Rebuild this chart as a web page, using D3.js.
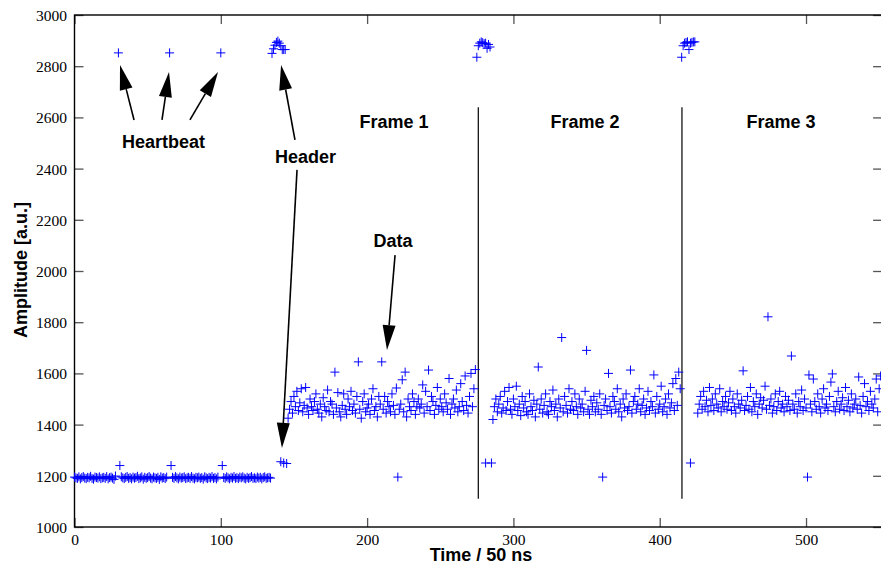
<!DOCTYPE html>
<html>
<head>
<meta charset="utf-8">
<script src="https://cdn.jsdelivr.net/npm/d3@7"></script>
<style>
  html, body { margin: 0; padding: 0; background: #fff; }
  svg { display: block; }
</style>
</head>
<body>
<svg id="chart" width="881" height="564"></svg>
<script>
// ---------------- data ----------------
const xTicks = [0, 100, 200, 300, 400, 500];
const yTicks = [1000, 1200, 1400, 1600, 1800, 2000, 2200, 2400, 2600, 2800, 3000];

// idle baseline, one sample per time unit starting at t = 0 (null = heartbeat slot)
const baselineStart = 0;
const baseline = [
  1195,1192,1190,1196,1188,1193,1197,1191,1189,1194,
  1192,1198,1190,1187,1195,1193,1191,1196,1189,1192,
  1194,1190,1197,1188,1193,1195,1191,1186,1199,null,
  null,null,1196,1192,1189,1194,1197,1190,1193,1188,
  1195,1191,1193,1198,1189,1192,1196,1187,1194,1190,
  1193,1197,1191,1188,1195,1192,1190,1194,1186,1196,
  1191,1193,1189,1195,null,null,null,1194,1190,1197,
  1192,1188,1195,1191,1193,1196,1189,1192,1194,1190,
  1197,1191,1188,1194,1192,1195,1190,1193,1187,1196,
  1192,1189,1194,1191,1197,1190,1193,1188,1195,null,
  null,null,1193,1190,1196,1192,1188,1194,1191,1197,
  1190,1193,1189,1195,1192,1196,1191,1188,1194,1190,
  1193,1197,1190,1192,1189,1195,1191,1194,1188,1193,
  1196,1190,1192,1194,1191
];

// heartbeat pulses
const heartbeatX = [30, 65, 100, 31, 66, 101];
const heartbeatY = [2852, 2852, 2852, 1240, 1240, 1240];

// frame headers
const header1Start = 135;
const header1 = [2850, 2868, 2882, 2893, 2898, 2890, 2880, 2865, 2865, 2865];
const header2Start = 275;
const header2 = [2835, 2880, 2890, 2895, 2892, 2888, 2890, 2870, 2885, 2875];
const header3Start = 415;
const header3 = [2835, 2880, 2890, 2893, 2895, 2865, 2890, 2893, 2895, 2895];

// trailing header words near 1250
const lowX = [141, 143, 145, 281, 285, 421];
const lowY = [1255, 1250, 1248, 1250, 1250, 1250];

// frame payloads, one sample per time unit
const frame1Start = 146;
const frame1 = [
  1425,1460,1490,1445,1510,1470,1530,1455,1485,1540,
  1450,1475,1545,1465,1440,1500,1470,1455,1490,1520,
  1460,1445,1480,1430,1505,1470,1455,1535,1450,1490,
  1480,1440,1605,1465,1525,1450,1430,1475,1520,1460,
  1440,1500,1470,1530,1455,1480,1445,1510,1645,1460,
  1425,1490,1520,1450,1465,1480,1440,1500,1540,1455,
  1470,1430,1510,1480,1645,1460,1510,1445,1490,1470,
  1450,1520,1475,1440,1543,1195,1460,1480,1575,1450,
  1605,1430,1500,1470,1455,1520,1490,1440,1470,1500,
  1465,1480,1555,1445,1530,1470,1613,1455,1510,1490,
  1440,1475,1545,1460,1500,1470,1450,1520,1485,1460,
  1580,1440,1480,1500,1465,1535,1450,1470,1560,1490,
  1455,1590,1475,1445,1510,1600,1470,1540,1615
];
const frame2Start = 286;
const frame2 = [
  1420,1470,1500,1450,1480,1510,1445,1465,1530,1455,
  1490,1545,1460,1440,1500,1470,1550,1455,1480,1435,
  1510,1465,1490,1450,1440,1520,1470,1455,1495,1430,
  1480,1625,1460,1500,1445,1475,1520,1450,1440,1490,
  1470,1535,1455,1480,1430,1500,1465,1740,1450,1510,
  1475,1445,1540,1460,1490,1455,1520,1470,1440,1500,
  1465,1480,1450,1530,1690,1460,1440,1495,1470,1510,
  1450,1485,1460,1520,1440,1195,1475,1500,1455,1600,
  1470,1445,1510,1490,1460,1540,1450,1480,1430,1500,
  1465,1520,1455,1470,1613,1445,1490,1510,1460,1480,
  1540,1450,1475,1500,1440,1465,1530,1455,1490,1470,
  1594,1445,1510,1460,1480,1550,1450,1470,1500,1440,
  1520,1465,1485,1560,1455,1580,1475,1605,1540
];
const frame3Start = 426;
const frame3 = [
  1445,1480,1510,1460,1530,1470,1495,1450,1545,1475,
  1500,1455,1520,1480,1465,1540,1450,1490,1470,1510,
  1460,1485,1530,1455,1500,1470,1445,1520,1480,1465,
  1495,1610,1455,1475,1510,1460,1545,1450,1490,1470,
  1520,1440,1480,1505,1465,1495,1550,1460,1821,1475,
  1500,1445,1470,1520,1455,1490,1530,1465,1480,1450,
  1510,1470,1495,1455,1668,1480,1460,1520,1445,1490,
  1470,1535,1455,1500,1465,1195,1594,1480,1450,1578,
  1490,1460,1520,1470,1445,1500,1540,1465,1480,1455,
  1510,1566,1598,1470,1450,1490,1530,1460,1480,1505,
  1455,1545,1470,1495,1450,1520,1465,1480,1500,1460,
  1586,1475,1445,1510,1560,1470,1490,1455,1530,1480,
  1465,1500,1578,1450,1540,1590
];

// frame separators (time), spanning amplitude range
const separatorX = [276, 415.2];
const separatorY = [1110, 2640];

// annotations: text labels (centre x, baseline y in data units)
const labelText = ["Heartbeat", "Header", "Frame 1", "Frame 2", "Frame 3", "Data"];
const labelX = [60.8, 157.9, 218.4, 349.0, 482.9, 217.7];
const labelY = [2480, 2422, 2559, 2559, 2559, 2094];

// arrows: tail (x0,y0) -> tip (x1,y1)
const arrowX0 = [40.7, 59.8, 78.9, 150.7, 152.1, 219.1];
const arrowY0 = [2590, 2590, 2590, 2512, 2395, 2062];
const arrowX1 = [31.1, 64.6, 98.1, 141.2, 141.8, 213.6];
const arrowY1 = [2805, 2777, 2777, 2805, 1309, 1691];

// ---------------- drawing ----------------
const svg = d3.select("#chart");
svg.append("rect").attr("width", 881).attr("height", 564).attr("fill", "#fff");

const x = d3.scaleLinear().domain([0, 552]).range([74.5, 882.1]);
const y = d3.scaleLinear().domain([1000, 3000]).range([527, 15]);

const serif = "'Liberation Serif', 'Times New Roman', serif";
const sans = "'Liberation Sans', Arial, Helvetica, sans-serif";

// collect points
const pts = [];
function addSeries(start, vals) {
  vals.forEach((v, i) => { if (v !== null) pts.push([start + i, v]); });
}
addSeries(baselineStart, baseline);
addSeries(header1Start, header1);
addSeries(header2Start, header2);
addSeries(header3Start, header3);
addSeries(frame1Start, frame1);
addSeries(frame2Start, frame2);
addSeries(frame3Start, frame3);
heartbeatX.forEach((hx, i) => pts.push([hx, heartbeatY[i]]));
lowX.forEach((lx, i) => pts.push([lx, lowY[i]]));

// axes (ticks inward)
const fmt = d3.format("d");
const tickColor = "#555";
const gB = svg.append("g").attr("transform", `translate(0,${y(1000)})`)
  .call(d3.axisBottom(x).tickValues(xTicks).tickFormat(fmt).tickSizeInner(-9).tickSizeOuter(0).tickPadding(7));
const gT = svg.append("g").attr("transform", `translate(0,${y(3000)})`)
  .call(d3.axisTop(x).tickValues(xTicks).tickSizeInner(-9).tickSizeOuter(0).tickFormat(""));
const gL = svg.append("g").attr("transform", `translate(${x(0)},0)`)
  .call(d3.axisLeft(y).tickValues(yTicks).tickFormat(fmt).tickSizeInner(-9).tickSizeOuter(0).tickPadding(7.5));
const gR = svg.append("g").attr("transform", `translate(${x(552)},0)`)
  .call(d3.axisRight(y).tickValues(yTicks).tickSizeInner(-9).tickSizeOuter(0).tickFormat(""));
[gB, gT, gL, gR].forEach(g => {
  g.attr("font-family", null).attr("font-size", null);
  g.select(".domain").remove();
  g.selectAll(".tick line").attr("stroke", tickColor).attr("stroke-width", 1.3);
  g.selectAll(".tick text")
    .style("font-family", serif).style("font-size", "15.5px").style("fill", "#000");
});
gL.selectAll(".tick text").attr("dy", "0.36em");

// frame border
svg.append("rect")
  .attr("x", x(0)).attr("y", y(3000))
  .attr("width", x(552) - x(0)).attr("height", y(1000) - y(3000))
  .attr("fill", "none").attr("stroke", "#000").attr("stroke-width", 1.4);

// frame separators
svg.append("g").selectAll("line").data(separatorX).join("line")
  .attr("x1", d => x(d)).attr("x2", d => x(d))
  .attr("y1", y(separatorY[0])).attr("y2", y(separatorY[1]))
  .attr("stroke", "#000").attr("stroke-width", 1.2);

// points as "+"
const s = 4.5;
svg.append("g").selectAll("path").data(pts).join("path")
  .attr("d", d => {
    const px = x(d[0]), py = y(d[1]);
    return `M${px - s},${py}H${px + s}M${px},${py - s}V${py + s}`;
  })
  .attr("fill", "none").attr("stroke", "#0000ff").attr("stroke-width", 1);

// arrows
const ag = svg.append("g");
arrowX0.forEach((ax, i) => {
  const x0 = x(ax), y0 = y(arrowY0[i]), x1 = x(arrowX1[i]), y1 = y(arrowY1[i]);
  const dx = x1 - x0, dy = y1 - y0, L = Math.hypot(dx, dy);
  const ux = dx / L, uy = dy / L;
  const headL = 25, headW = 6.5;
  const bx = x1 - ux * headL, by = y1 - uy * headL;
  ag.append("line").attr("x1", x0).attr("y1", y0).attr("x2", bx).attr("y2", by)
    .attr("stroke", "#000").attr("stroke-width", 1.6);
  ag.append("path")
    .attr("d", `M${x1},${y1}L${bx - uy * headW},${by + ux * headW}L${bx + uy * headW},${by - ux * headW}Z`)
    .attr("fill", "#000");
});

// labels
svg.append("g").selectAll("text").data(labelText).join("text")
  .attr("x", (d, i) => x(labelX[i])).attr("y", (d, i) => y(labelY[i]))
  .attr("text-anchor", "middle")
  .style("font-family", sans).style("font-weight", "bold").style("font-size", "18px")
  .attr("fill", "#000")
  .text(d => d);

// axis titles
svg.append("text").attr("x", 481).attr("y", 561).attr("text-anchor", "middle")
  .style("font-family", sans).style("font-weight", "bold").style("font-size", "18px")
  .text("Time / 50 ns");
svg.append("text").attr("transform", "translate(27,270) rotate(-90)").attr("text-anchor", "middle")
  .style("font-family", sans).style("font-weight", "bold").style("font-size", "18px")
  .text("Amplitude [a.u.]");
</script>
</body>
</html>
